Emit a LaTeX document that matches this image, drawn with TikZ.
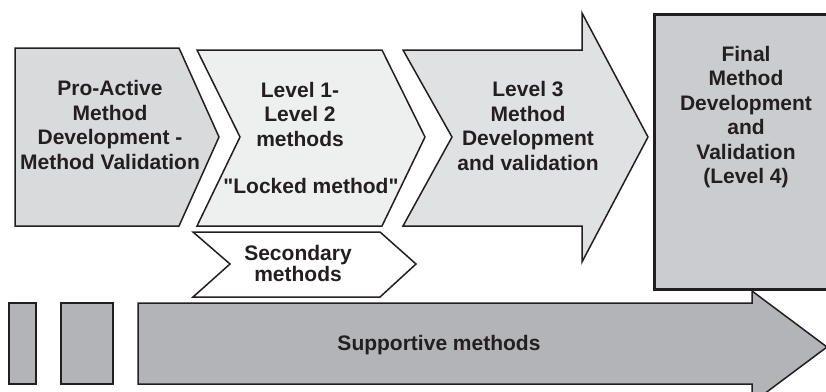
\documentclass[tikz,border=0pt]{standalone}
\usepackage{fontspec}
\setmainfont{Liberation Sans}[Ligatures=TeXOff]
\usepackage{tikz}

\definecolor{edge}{HTML}{231F20}
\definecolor{proactive}{HTML}{D9DADC}
\definecolor{levelone}{HTML}{EEEFEF}
\definecolor{levelthree}{HTML}{E0E1E3}
\definecolor{finalbox}{HTML}{CBCCCF}
\definecolor{support}{HTML}{B3B4B8}

\tikzset{
  stagebox/.style={draw=edge, line width=1.5pt, line join=miter},
  stagetext/.style={align=center, text=edge, font=\fontsize{21}{24.5}\selectfont\bfseries}
}

\begin{document}
\begin{tikzpicture}[x=1pt, y=-1pt]
                \useasboundingbox (0,0) rectangle (826,391);
                \begin{scope}
                \clip (0,0) rectangle (826,391);
                % top row
                \draw[stagebox, fill=proactive] (15,48) -- (179,48) -- (219,137) -- (179,226) -- (15,226) -- cycle;
                \draw[stagebox, fill=levelone] (197,50) -- (382,50) -- (425,137) -- (382,226) -- (197,226) -- (240,137) -- cycle;
                \draw[stagebox, fill=levelthree] (403,50) -- (582,50) -- (582,13) -- (648,137) -- (582,262) -- (582,226) -- (403,226) -- (452,137) -- cycle;
                \draw[stagebox, fill=finalbox, line width=3pt] (654,14) rectangle (840,289);
                \draw[stagebox, fill=white] (193,232) -- (380,232) -- (416,264) -- (380,297) -- (193,297) -- (230,264) -- cycle;
                % bottom row
                \draw[stagebox, fill=support] (9,303) rectangle (36,384);
                \draw[stagebox, fill=support] (61,303) rectangle (113,384);
                \draw[stagebox, fill=support] (138,303) -- (752,303) -- (752,291) -- (827,347) -- (752,403) -- (752,384) -- (138,384) -- cycle;
                \end{scope}
                % texts
                \node[stagetext] (proactive) at (110,125) {Pro-Active\\Method\\Development -\\Method Validation};
                \node[stagetext] (levels) at (300,114) {Level 1-\\Level 2\\methods};
                \node[stagetext] (locked) at (311,186) {"Locked method"};
                \node[stagetext] (levelthree) at (528,126) {Level 3\\Method\\Development\\and validation};
                \node[stagetext] (final) at (746,117) {Final\\Method\\Development\\and\\Validation\\(Level 4)};
                \node[stagetext, font=\fontsize{21}{21}\selectfont\bfseries] (secondary) at (298,263) {Secondary\\methods};
                \node[stagetext] (supportive) at (439,345) {Supportive methods};
            \end{tikzpicture}
\end{document}
